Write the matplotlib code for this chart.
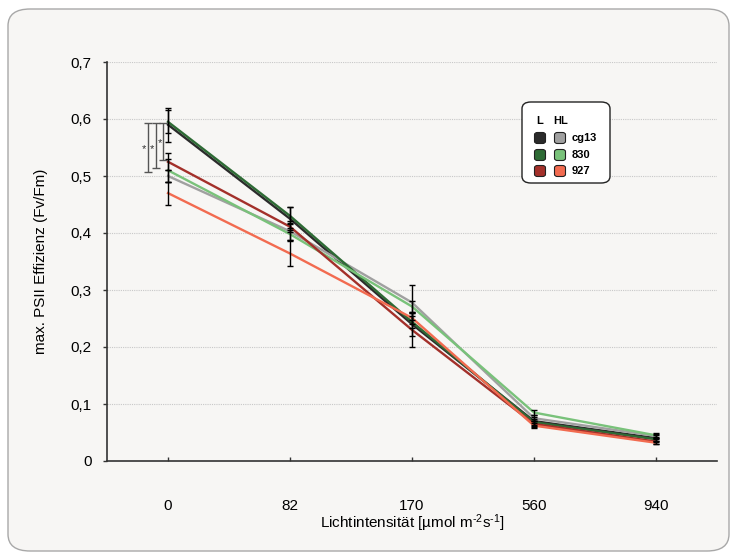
import matplotlib
matplotlib.use("Agg")
import matplotlib.pyplot as plt
from matplotlib.patches import FancyBboxPatch
import numpy as np

plt.rcParams['font.family'] = ['Liberation Sans', 'DejaVu Sans']
plt.rcParams['mathtext.fontset'] = 'custom'
plt.rcParams['mathtext.rm'] = 'Liberation Sans'
plt.rcParams['mathtext.it'] = 'Liberation Sans:italic'
plt.rcParams['mathtext.bf'] = 'Liberation Sans:bold'

categories = ["0", "82", "170", "560", "940"]
y_ticks = [0, 0.1, 0.2, 0.3, 0.4, 0.5, 0.6, 0.7]
y_tick_labels = ["0", "0,1", "0,2", "0,3", "0,4", "0,5", "0,6", "0,7"]

series_names = ["cg13 L", "cg13 HL", "830 L", "830 HL", "927 L", "927 HL"]
series_colors = ["#2b2b2b", "#a0a0a0", "#2e6b35", "#79c27a", "#a3302a", "#f26b50"]

cg13_L = [0.590, 0.425, 0.240, 0.070, 0.040]
cg13_HL = [0.500, 0.403, 0.278, 0.075, 0.044]
s830_L = [0.595, 0.430, 0.244, 0.068, 0.038]
s830_HL = [0.510, 0.398, 0.271, 0.085, 0.045]
s927_L = [0.525, 0.411, 0.230, 0.065, 0.034]
s927_HL = [0.470, 0.364, 0.251, 0.062, 0.032]

cg13_L_err = [0.030, 0.020, 0.020, 0.008, 0.005]
cg13_HL_err = [0.010, 0.015, 0.030, 0.005, 0.004]
s830_L_err = [0.020, 0.015, 0.010, 0.005, 0.004]
s830_HL_err = [0.020, 0.010, 0.010, 0.005, 0.004]
s927_L_err = [0.015, 0.010, 0.030, 0.005, 0.004]
s927_HL_err = [0.020, 0.022, 0.010, 0.004, 0.003]

series_values = [cg13_L, cg13_HL, s830_L, s830_HL, s927_L, s927_HL]
series_errors = [cg13_L_err, cg13_HL_err, s830_L_err, s830_HL_err, s927_L_err, s927_HL_err]

# significance brackets at category 0
sig_x = [-0.164, -0.10, -0.04]
sig_low = [0.507, 0.514, 0.528]
sig_high = [0.593, 0.593, 0.593]
sig_star_x = [-0.195, -0.132, -0.066]
sig_star_y = [0.547, 0.548, 0.557]

bg = "#f7f6f4"
fig = plt.figure(figsize=(7.38, 5.6), dpi=100)
fig.patch.set_facecolor("white")

frame = FancyBboxPatch((8 / 738, 9 / 560), 721 / 738, 542 / 560,
                       boxstyle="round,pad=0,rounding_size=0.03",
                       transform=fig.transFigure, facecolor=bg,
                       edgecolor="#a8a8a8", linewidth=1.0, zorder=-5)
fig.patches.append(frame)

ax = fig.add_axes([107 / 738, 1 - 461 / 560, (717 - 107) / 738, (461 - 62) / 560])
ax.set_facecolor("none")

x = np.arange(len(categories))
for vals, errs, col in zip(series_values, series_errors, series_colors):
    ax.plot(x, vals, color=col, lw=1.7, zorder=3)
for vals, errs, col in zip(series_values, series_errors, series_colors):
    ax.errorbar(x, vals, yerr=errs, fmt="none", ecolor="black", elinewidth=1.0,
                capsize=2.5, capthick=1.0, zorder=4)

for sx, lo, hi in zip(sig_x, sig_low, sig_high):
    mid = (lo + hi) / 2
    ax.errorbar([sx], [mid], yerr=[[mid - lo], [hi - mid]], fmt="none",
                ecolor="#555555", elinewidth=1.0, capsize=3, capthick=1.0, zorder=4)
for sx, sy in zip(sig_star_x, sig_star_y):
    ax.text(sx, sy, "*", ha="center", va="center", fontsize=8, color="#333333")

ax.set_xlim(-0.5, len(categories) - 0.5)
ax.set_ylim(0, 0.7)
ax.set_xticks(x)
ax.set_xticklabels(categories, fontsize=11)
ax.set_yticks(y_ticks)
ax.set_yticklabels(y_tick_labels, fontsize=11)
ax.tick_params(axis="both", length=3, width=1, color="#333333", pad=8)
ax.tick_params(axis="x", direction="in", pad=27)
for yv in y_ticks[1:]:
    ax.axhline(yv, color="#c8c8c8", lw=0.8, ls=(0, (1, 1)), zorder=1)
for s in ["top", "right"]:
    ax.spines[s].set_visible(False)
for s in ["left", "bottom"]:
    ax.spines[s].set_color("#333333")
    ax.spines[s].set_linewidth(1.2)

ax.set_xlabel("Lichtintensität [µmol m$^{\\text{-2}}$s$^{\\text{-1}}$]", fontsize=11, labelpad=0)
ax.set_ylabel("max. PSII Effizienz (Fv/Fm)", fontsize=11, labelpad=16)

# legend box
def fx(px):
    return px / 738

def fy(py):
    return 1 - py / 560

leg = FancyBboxPatch((fx(522), fy(183)), fx(610) - fx(522), fy(102) - fy(183),
                     boxstyle="round,pad=0,rounding_size=0.012",
                     transform=fig.transFigure, facecolor="white",
                     edgecolor="#222222", linewidth=1.0, zorder=5)
fig.patches.append(leg)
fig.text(fx(540), fy(121), "L", fontsize=8, fontweight="bold", ha="center", va="center", zorder=6)
fig.text(fx(561), fy(121), "HL", fontsize=8, fontweight="bold", ha="center", va="center", zorder=6)
row_labels = ["cg13", "830", "927"]
row_y = [138, 155, 171]
for i, (lab, ry) in enumerate(zip(row_labels, row_y)):
    for j, cx in enumerate([540, 560]):
        col = series_colors[2 * i + j]
        sq = FancyBboxPatch((fx(cx - 5.5), fy(ry + 5.5)), fx(11), fy(0) - fy(11),
                            boxstyle="round,pad=0,rounding_size=0.004",
                            transform=fig.transFigure, facecolor=col,
                            edgecolor="#222222", linewidth=0.8, zorder=6)
        fig.patches.append(sq)
    fig.text(fx(572), fy(ry), lab, fontsize=8, fontweight="bold", ha="left", va="center", zorder=6)

fig.savefig("out.png", dpi=100, facecolor=fig.get_facecolor())
